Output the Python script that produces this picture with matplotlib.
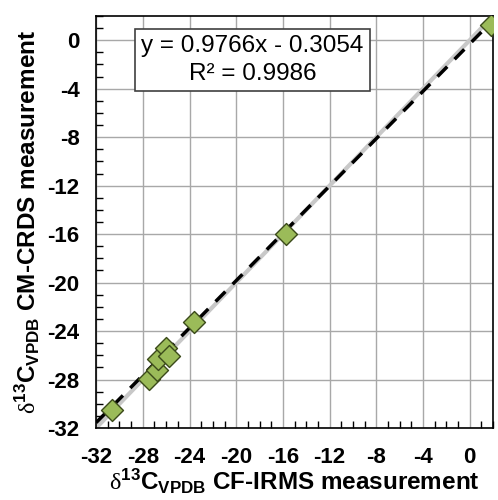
import numpy as np
import matplotlib
matplotlib.use('Agg')
import matplotlib.pyplot as plt
from matplotlib.ticker import MultipleLocator

plt.rcParams['font.family'] = ['Liberation Sans', 'DejaVu Sans']
plt.rcParams['axes.unicode_minus'] = False
plt.rcParams['mathtext.fontset'] = 'custom'
plt.rcParams['mathtext.rm'] = 'Liberation Serif'
plt.rcParams['mathtext.bf'] = 'Liberation Sans:bold'
plt.rcParams['mathtext.it'] = 'Liberation Sans:italic'

# CF-IRMS (x) vs CM-CRDS (y), per mil
irms = [-30.66, -27.47, -26.78, -26.70, -26.02, -25.76, -23.62, -15.75, 1.85]
crds = [-30.52, -27.96, -27.22, -26.31, -25.40, -26.06, -23.26, -16.00, 1.24]
slope, intercept = 0.9766, -0.3054
r2 = 0.9986

fig = plt.figure(figsize=(4.98, 5.0), dpi=100)
ax = fig.add_axes([0.193, 0.144, 0.797, 0.824])

line_x = np.array([-32, 2])
ax.plot(line_x, line_x, color='#c8c8c8', lw=3, zorder=2)
ax.plot(line_x, slope * line_x + intercept, color='black', lw=2.5,
        ls=(0, (4, 3)), zorder=3)
ax.scatter(irms, crds, marker='D', s=125, facecolor='#9bbb59',
           edgecolor='#3b4a1a', lw=1, zorder=4)

ax.set_xlim(-32, 2)
ax.set_ylim(-32, 2)
ax.xaxis.set_major_locator(MultipleLocator(4))
ax.yaxis.set_major_locator(MultipleLocator(4))
ax.xaxis.set_minor_locator(MultipleLocator(1))
ax.yaxis.set_minor_locator(MultipleLocator(1))
ax.grid(True, which='major', color='#a8a8a8', lw=1, zorder=0)
ax.set_axisbelow(True)
ax.tick_params(axis='x', which='major', direction='in', length=0, pad=14,
               labelsize=16)
ax.tick_params(axis='y', which='major', direction='in', length=0, pad=12,
               labelsize=16)
ax.tick_params(which='minor', direction='in', length=5, width=1)
for lab in ax.get_xticklabels() + ax.get_yticklabels():
    lab.set_fontweight('bold')
for sp in ax.spines.values():
    sp.set_linewidth(1.2)

label_tpl = r'$\mathrm{\delta}^{\mathbf{13}}\mathbf{C_{VPDB}}$ {}'
ax.set_xlabel(label_tpl.replace('{}', 'CF-IRMS measurement'),
              fontsize=17.5, fontweight='bold', labelpad=-1)
ax.set_ylabel(label_tpl.replace('{}', 'CM-CRDS measurement'),
              fontsize=17.5, fontweight='bold', labelpad=4)

ax.text(-18.6, -1.65, 'y = {:.4f}x - {:.4f}\nR² = {:.4f}'.format(slope, -intercept, r2),
        ha='center', va='center', fontsize=17.5, multialignment='center',
        linespacing=1.35,
        bbox=dict(boxstyle='square,pad=0.25', fc='white', ec='#404040', lw=1.2),
        zorder=5)

fig.savefig('out.png', dpi=100)
